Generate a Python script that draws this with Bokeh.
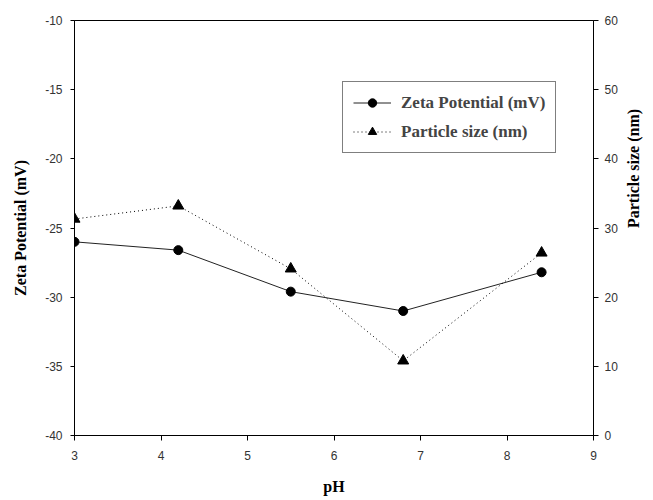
import math
from bokeh.plotting import figure
from bokeh.models import Range1d, LinearAxis, FixedTicker, Legend
from bokeh.embed import file_html
from bokeh.resources import INLINE

# Data
ph = [3.0, 4.2, 5.5, 6.8, 8.4]
zeta_mv = [-26.0, -26.6, -29.6, -31.0, -28.2]
particle_nm = [31.3, 33.2, 24.1, 10.8, 26.4]

x_ticks = [3, 4, 5, 6, 7, 8, 9]
zeta_ticks = [-40, -35, -30, -25, -20, -15, -10]
size_ticks = [0, 10, 20, 30, 40, 50, 60]

SERIF = "Liberation Serif"
SANS = "Liberation Sans"

p = figure(width=653, height=500, output_backend="svg", toolbar_location=None,
           x_range=Range1d(3, 9), y_range=Range1d(-40, -10),
           min_border_left=74, min_border_right=60, min_border_top=20, min_border_bottom=65)
p.extra_y_ranges = {"size": Range1d(0, 60)}

p.xgrid.visible = False
p.ygrid.visible = False
p.outline_line_color = "black"
p.outline_line_width = 1
p.background_fill_color = "white"
p.border_fill_color = "white"

# bottom axis
xa = p.xaxis[0]
xa.ticker = FixedTicker(ticks=x_ticks)
xa.axis_label = "pH"
xa.major_label_overrides = {t: str(t) for t in x_ticks}

# left axis
ya = p.yaxis[0]
ya.ticker = FixedTicker(ticks=zeta_ticks)
ya.axis_label = "Zeta Potential (mV)"
ya.major_label_overrides = {t: str(t) for t in zeta_ticks}

# right axis
ra = LinearAxis(y_range_name="size", ticker=FixedTicker(ticks=size_ticks),
                axis_label="Particle size (nm)")
ra.major_label_overrides = {t: str(t) for t in size_ticks}
p.add_layout(ra, "right")

for ax in (xa, ya, ra):
    ax.axis_line_color = "black"
    ax.major_tick_line_color = "black"
    ax.minor_tick_line_color = None
    ax.major_tick_in = 0
    ax.major_label_text_font = SANS
    ax.major_label_text_font_size = "12px"
    ax.major_label_text_color = "#333333"
    ax.axis_label_text_font = SERIF
    ax.axis_label_text_font_style = "bold"
    ax.axis_label_text_font_size = "16px"
    ax.axis_label_text_color = "black"

xa.major_tick_out = 5
xa.major_label_standoff = 10
xa.axis_label_standoff = 15
ya.major_tick_out = 4
ya.major_label_standoff = 8
ya.axis_label_standoff = 13
ra.major_tick_out = 5
ra.major_label_standoff = 6
ra.axis_label_standoff = 13
ra.axis_label_orientation = math.pi / 2

# series
l1 = p.line(ph, zeta_mv, line_color="#222222", line_width=1)
m1 = p.scatter(ph, zeta_mv, marker="circle", size=9, fill_color="black", line_color="black")
l2 = p.line(ph, particle_nm, y_range_name="size", line_color="black", line_width=1, line_dash="1 3")
m2 = p.scatter(ph, particle_nm, y_range_name="size", marker="triangle", size=11,
               fill_color="black", line_color="black")

legend = Legend(items=[("Zeta Potential (mV)", [l1, m1]), ("Particle size (nm)", [l2, m2])],
                location=(268, 282), orientation="vertical",
                label_text_font=SERIF, label_text_font_style="bold", label_text_font_size="17px",
                label_height=21, glyph_height=21, glyph_width=38, padding=10, spacing=8,
                label_standoff=10, margin=0, border_line_color="black", border_line_width=1,
                background_fill_color="white", background_fill_alpha=1.0)
p.add_layout(legend, "center")

open("out.html", "w").write(file_html(p, INLINE))
